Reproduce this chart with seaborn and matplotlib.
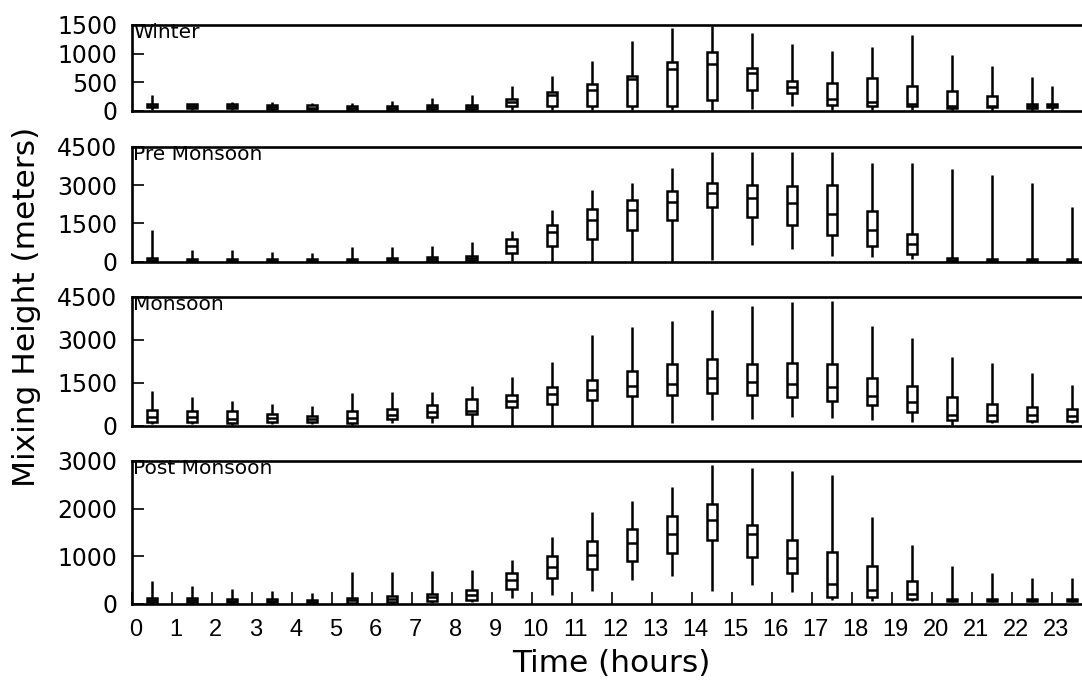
import numpy as np
import pandas as pd
import matplotlib
matplotlib.use('Agg')
import matplotlib.pyplot as plt
import seaborn as sns
from matplotlib.transforms import ScaledTranslation

hours = list(range(24))

# box statistics: min, q1, median, q3, max per hour
winter_min = [15, 10, 10, 5, 5, 5, 5, 5, 5, 10, 10, 10, 10, 10, 0, 40, 86, 10, 10, 10, 5, 5, 5, 5]
winter_q1 = [70, 57, 50, 30, 30, 17, 17, 40, 40, 86, 86, 86, 86, 86, 200, 360, 315, 103, 86, 86, 51, 69, 57, 69]
winter_med = [90, 85, 90, 65, 60, 50, 50, 70, 65, 155, 275, 360, 560, 726, 812, 670, 418, 206, 160, 126, 86, 92, 92, 97]
winter_q3 = [115, 115, 120, 97, 97, 80, 80, 97, 97, 217, 332, 470, 612, 847, 1024, 755, 515, 486, 578, 430, 343, 269, 126, 126]
winter_max = [275, 130, 160, 160, 143, 143, 183, 235, 275, 430, 612, 870, 1213, 1447, 1490, 1356, 1173, 1047, 1115, 1333, 972, 784, 600, 440]

pre_min = [0, 0, 0, 0, 0, 0, 0, 0, 10, 30, 0, 0, 0, 0, 65, 639, 482, 222, 183, 91, 0, 0, 0, 0]
pre_q1 = [26, 26, 26, 26, 26, 26, 26, 26, 65, 352, 613, 874, 1239, 1643, 2125, 1760, 1434, 1030, 613, 313, 26, 26, 26, 26]
pre_med = [65, 65, 65, 65, 55, 55, 90, 110, 150, 626, 1160, 1617, 2021, 2347, 2686, 2478, 2282, 1865, 1252, 678, 80, 65, 65, 65]
pre_q3 = [130, 117, 117, 117, 91, 91, 156, 196, 235, 887, 1447, 2073, 2399, 2764, 3090, 3012, 2973, 3012, 1982, 1095, 143, 117, 117, 117]
pre_max = [1226, 456, 456, 378, 326, 574, 574, 613, 770, 1187, 2034, 2817, 3064, 3677, 4290, 4290, 4290, 4290, 3873, 3873, 3625, 3390, 3090, 2152]

mon_min = [50, 50, 40, 50, 50, 30, 81, 81, 0, 0, 0, 0, 0, 81, 198, 221, 290, 256, 198, 140, 20, 81, 81, 81]
mon_q1 = [140, 140, 105, 116, 116, 81, 221, 302, 407, 640, 756, 907, 1035, 1082, 1151, 1082, 989, 861, 709, 488, 198, 163, 163, 163]
mon_med = [314, 314, 244, 267, 221, 256, 384, 465, 523, 861, 1093, 1244, 1384, 1465, 1675, 1535, 1454, 1349, 1023, 837, 360, 372, 372, 349]
mon_q3 = [547, 500, 500, 407, 337, 500, 582, 721, 919, 1082, 1349, 1605, 1896, 2140, 2326, 2140, 2175, 2140, 1675, 1384, 989, 756, 651, 582]
mon_max = [1210, 989, 872, 768, 686, 1128, 1163, 1175, 1384, 1686, 2233, 3175, 3442, 3663, 4024, 4175, 4315, 4361, 3477, 3070, 2384, 2198, 1826, 1430]

post_min = [0, 0, 0, 0, 0, 0, 0, 14, 28, 119, 188, 272, 488, 586, 272, 384, 244, 70, 49, 49, 28, 28, 28, 28]
post_q1 = [28, 28, 28, 28, 14, 14, 28, 56, 84, 314, 537, 726, 893, 1067, 1333, 984, 635, 133, 133, 98, 56, 56, 56, 56]
post_med = [70, 70, 60, 60, 40, 70, 98, 133, 188, 488, 760, 1026, 1270, 1472, 1758, 1472, 949, 419, 286, 202, 84, 84, 84, 84]
post_q3 = [112, 112, 91, 91, 70, 112, 167, 209, 286, 642, 991, 1319, 1577, 1835, 2086, 1647, 1340, 1074, 788, 481, 105, 105, 105, 105]
post_max = [467, 363, 314, 272, 223, 663, 663, 691, 712, 921, 1409, 1919, 2156, 2456, 2923, 2854, 2784, 2700, 1821, 1228, 795, 642, 530, 530]

# boxes sit in the middle of each hour; winter's last one was logged on the hour
mid_times = [h + 0.5 for h in hours]
winter_times = mid_times[:-1] + [23.0]

seasons = ['Winter', 'Pre Monsoon', 'Monsoon', 'Post Monsoon']
y_ticks = [[0, 500, 1000, 1500], [0, 1500, 3000, 4500], [0, 1500, 3000, 4500], [0, 1000, 2000, 3000]]


def long_form(times, mins, q1s, meds, q3s, maxs):
    # five points per hour -> seaborn's quartiles land exactly on q1/median/q3
    rows = []
    for t, a, b, c, d, e in zip(times, mins, q1s, meds, q3s, maxs):
        for v in (a, b, c, d, e):
            rows.append({'time': t, 'height': v})
    return pd.DataFrame(rows)


frames = [
    long_form(winter_times, winter_min, winter_q1, winter_med, winter_q3, winter_max),
    long_form(mid_times, pre_min, pre_q1, pre_med, pre_q3, pre_max),
    long_form(mid_times, mon_min, mon_q1, mon_med, mon_q3, mon_max),
    long_form(mid_times, post_min, post_q1, post_med, post_q3, post_max),
]

sns.set_theme(style='white')
plt.rcParams['font.family'] = ['DejaVu Sans']
plt.rcParams['text.color'] = 'black'
plt.rcParams['axes.labelcolor'] = 'black'
plt.rcParams['xtick.color'] = 'black'
plt.rcParams['ytick.color'] = 'black'

fig = plt.figure(figsize=(10.82, 6.86), dpi=100)
W, H = 1082, 686
left = 131.7 / W
width = 960 / W
# (top px, bottom px) of each panel
rows_px = [(25, 111), (146.7, 261.7), (296.7, 425.7), (461, 603.5)]

box_kw = dict(x='time', y='height', orient='x', native_scale=True, width=0.26,
              whis=(0, 100), showcaps=False, showfliers=False, color='white',
              saturation=1, linecolor='black', linewidth=1.8)

for i, (name, df, ticks) in enumerate(zip(seasons, frames, y_ticks)):
    top, bot = rows_px[i]
    ax = fig.add_axes([left, (H - bot) / H, width, (bot - top) / H])
    # split so every call has unit spacing (keeps box widths equal)
    main = df[(df['time'] % 1) != 0]
    extra = df[(df['time'] % 1) == 0]
    sns.boxplot(data=main, ax=ax, **box_kw)
    if len(extra):
        sns.boxplot(data=extra, ax=ax, **box_kw)

    ax.set_xlim(0, 24)
    ax.set_ylim(0, ticks[-1])
    ax.set_yticks(ticks)
    ax.set_xlabel('')
    ax.set_ylabel('')
    for side in ['left', 'top', 'bottom']:
        ax.spines[side].set_color('black')
        ax.spines[side].set_linewidth(1.9)
    ax.spines['right'].set_visible(False)
    ax.tick_params(axis='y', direction='in', length=8.5, width=1.2, color='black',
                   labelsize=17, pad=10.5, left=True, labelcolor='black')
    ax.annotate(name, xy=(0, 1), xycoords='axes fraction', xytext=(1, 1.5),
                textcoords='offset points', ha='left', va='top', fontsize=14.5,
                color='black')

    if name == 'Post Monsoon':
        ax.set_xticks(hours)
        ax.set_xticklabels([str(h) for h in hours], family=['Liberation Sans', 'DejaVu Sans'])
        ax.tick_params(axis='x', direction='in', length=8.5, width=1.2, color='black',
                       labelsize=17, pad=11.5, bottom=True, labelbottom=True,
                       labelcolor='black')
        shift = ScaledTranslation(4 / 100, 0, fig.dpi_scale_trans)
        for lab in ax.get_xticklabels():
            lab.set_transform(lab.get_transform() + shift)
    else:
        ax.tick_params(axis='x', bottom=False, labelbottom=False)

fig.text(27 / W, 1 - 307 / H, 'Mixing Height (meters)', rotation=90,
         ha='center', va='center', fontsize=22.5, color='black')
fig.text(611 / W, 1 - 663 / H, 'Time (hours)', ha='center', va='center',
         fontsize=22.5, color='black')

fig.savefig('out.png', dpi=100)
